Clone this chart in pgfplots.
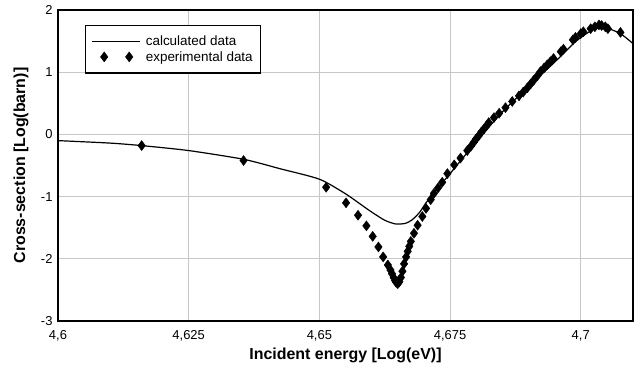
\documentclass[border=0pt]{standalone}
\usepackage{fontspec}
\setmainfont{Liberation Sans}
\usepackage{pgfplots}
\pgfplotsset{compat=1.18}
\begin{document}
\begin{tikzpicture}
\path[use as bounding box] (-58bp,-51bp) rectangle (583bp,321bp);
\begin{axis}[
 scale only axis, width=575bp, height=311bp,
 xmin=4.6, xmax=4.71, ymin=-3, ymax=2,
 xtick={4.6,4.625,4.65,4.675,4.7},
 xticklabels={{4,6},{4,625},{4,65},{4,675},{4,7}},
 ytick={-3,-2,-1,0,1,2},
 yticklabels={-3,-2,-1,0,1,2},
 major tick length=0pt,
 grid=major,
 grid style={draw=black!22, line width=0.8bp},
 axis line style={line width=1.5bp},
 ticklabel style={font=\fontsize{13}{15}\selectfont},
 xticklabel style={yshift=-6bp},
 yticklabel style={xshift=-2bp},
 xlabel={Incident energy [Log(eV)]},
 ylabel={Cross-section [Log(barn)]},
 label style={font=\bfseries\fontsize{16}{19}\selectfont},
 xlabel style={at={(axis description cs:0.5,-0.11)}, anchor=center},
 ylabel style={at={(axis description cs:-0.0643,0.5)}, anchor=center},
 legend style={at={(axis description cs:0.047,0.952)}, anchor=north west,
   draw=black, line width=1.2bp, font=\fontsize{13.5}{15}\selectfont,
   inner xsep=6bp, inner ysep=8.5bp, row sep=0bp, column sep=3bp,
   nodes={inner sep=2bp}},
 legend cell align=left,
]
\addplot[black, line width=1.2bp, smooth, tension=0.4, mark=none,
  legend image code/.code={\draw[black, line width=1.2bp] (0bp,0bp) -- (48bp,0bp);}]
 coordinates {
(4.6000,-0.10) (4.6100,-0.14) (4.6160,-0.18) (4.6250,-0.26) (4.6355,-0.40)
(4.6424,-0.55) (4.6500,-0.72) (4.6551,-0.96) (4.6595,-1.22) (4.6625,-1.38)
(4.6646,-1.44) (4.6665,-1.43) (4.6678,-1.37) (4.6692,-1.25) (4.6704,-1.10)
(4.6720,-0.93) (4.6750,-0.63) (4.6800,-0.12) (4.6850,0.36) (4.6900,0.77)
(4.6950,1.16) (4.6990,1.49) (4.7020,1.67) (4.7035,1.71) (4.7050,1.71)
(4.7076,1.62) (4.7100,1.46)
};
\addlegendentry{calculated data}
\addplot[only marks, mark=diamond*, mark size=5bp, mark options={fill=black, draw=black, line width=0.4bp},
  legend image code/.code={\path[draw=none] plot[mark=diamond*, mark size=5bp, mark options={fill=black, draw=black, line width=0.4bp}] coordinates {(12bp,0bp) (37bp,0bp)};\path[draw=none] (0bp,0bp) -- (48bp,0bp);}]
 coordinates {
(4.6160,-0.18) (4.6355,-0.42) (4.6513,-0.85) (4.6551,-1.10) (4.6574,-1.30)
(4.6590,-1.47) (4.6602,-1.64) (4.6613,-1.81) (4.6622,-1.97) (4.6631,-2.10)
(4.6636,-2.18) (4.6639,-2.24) (4.6642,-2.30) (4.6645,-2.35) (4.6647,-2.38)
(4.6650,-2.40) (4.6653,-2.37) (4.6656,-2.30) (4.6659,-2.20) (4.6662,-2.08)
(4.6666,-1.97) (4.6669,-1.88) (4.6672,-1.80) (4.6675,-1.72) (4.6681,-1.59)
(4.6688,-1.46) (4.6697,-1.32) (4.6704,-1.19) (4.6713,-1.05) (4.6719,-0.95)
(4.6727,-0.86) (4.6735,-0.77) (4.6745,-0.63) (4.6758,-0.49) (4.6770,-0.38)
(4.6783,-0.26) (4.6790,-0.19) (4.6796,-0.12) (4.6800,-0.07) (4.6805,-0.02)
(4.6810,0.04) (4.6815,0.09) (4.6820,0.14) (4.6824,0.19) (4.6834,0.27)
(4.6844,0.34) (4.6856,0.43) (4.6869,0.53) (4.6882,0.62) (4.6890,0.68)
(4.6898,0.75) (4.6904,0.81) (4.6910,0.87) (4.6917,0.94) (4.6923,1.01)
(4.6930,1.07) (4.6936,1.12) (4.6942,1.17) (4.6948,1.22) (4.6962,1.33)
(4.6967,1.37) (4.6985,1.52) (4.6990,1.56) (4.7000,1.62) (4.7005,1.65)
(4.7019,1.70) (4.7027,1.73) (4.7035,1.76) (4.7040,1.75) (4.7047,1.73)
(4.7052,1.70) (4.7076,1.64)
};
\addlegendentry{experimental data}
\end{axis}
\end{tikzpicture}
\end{document}
